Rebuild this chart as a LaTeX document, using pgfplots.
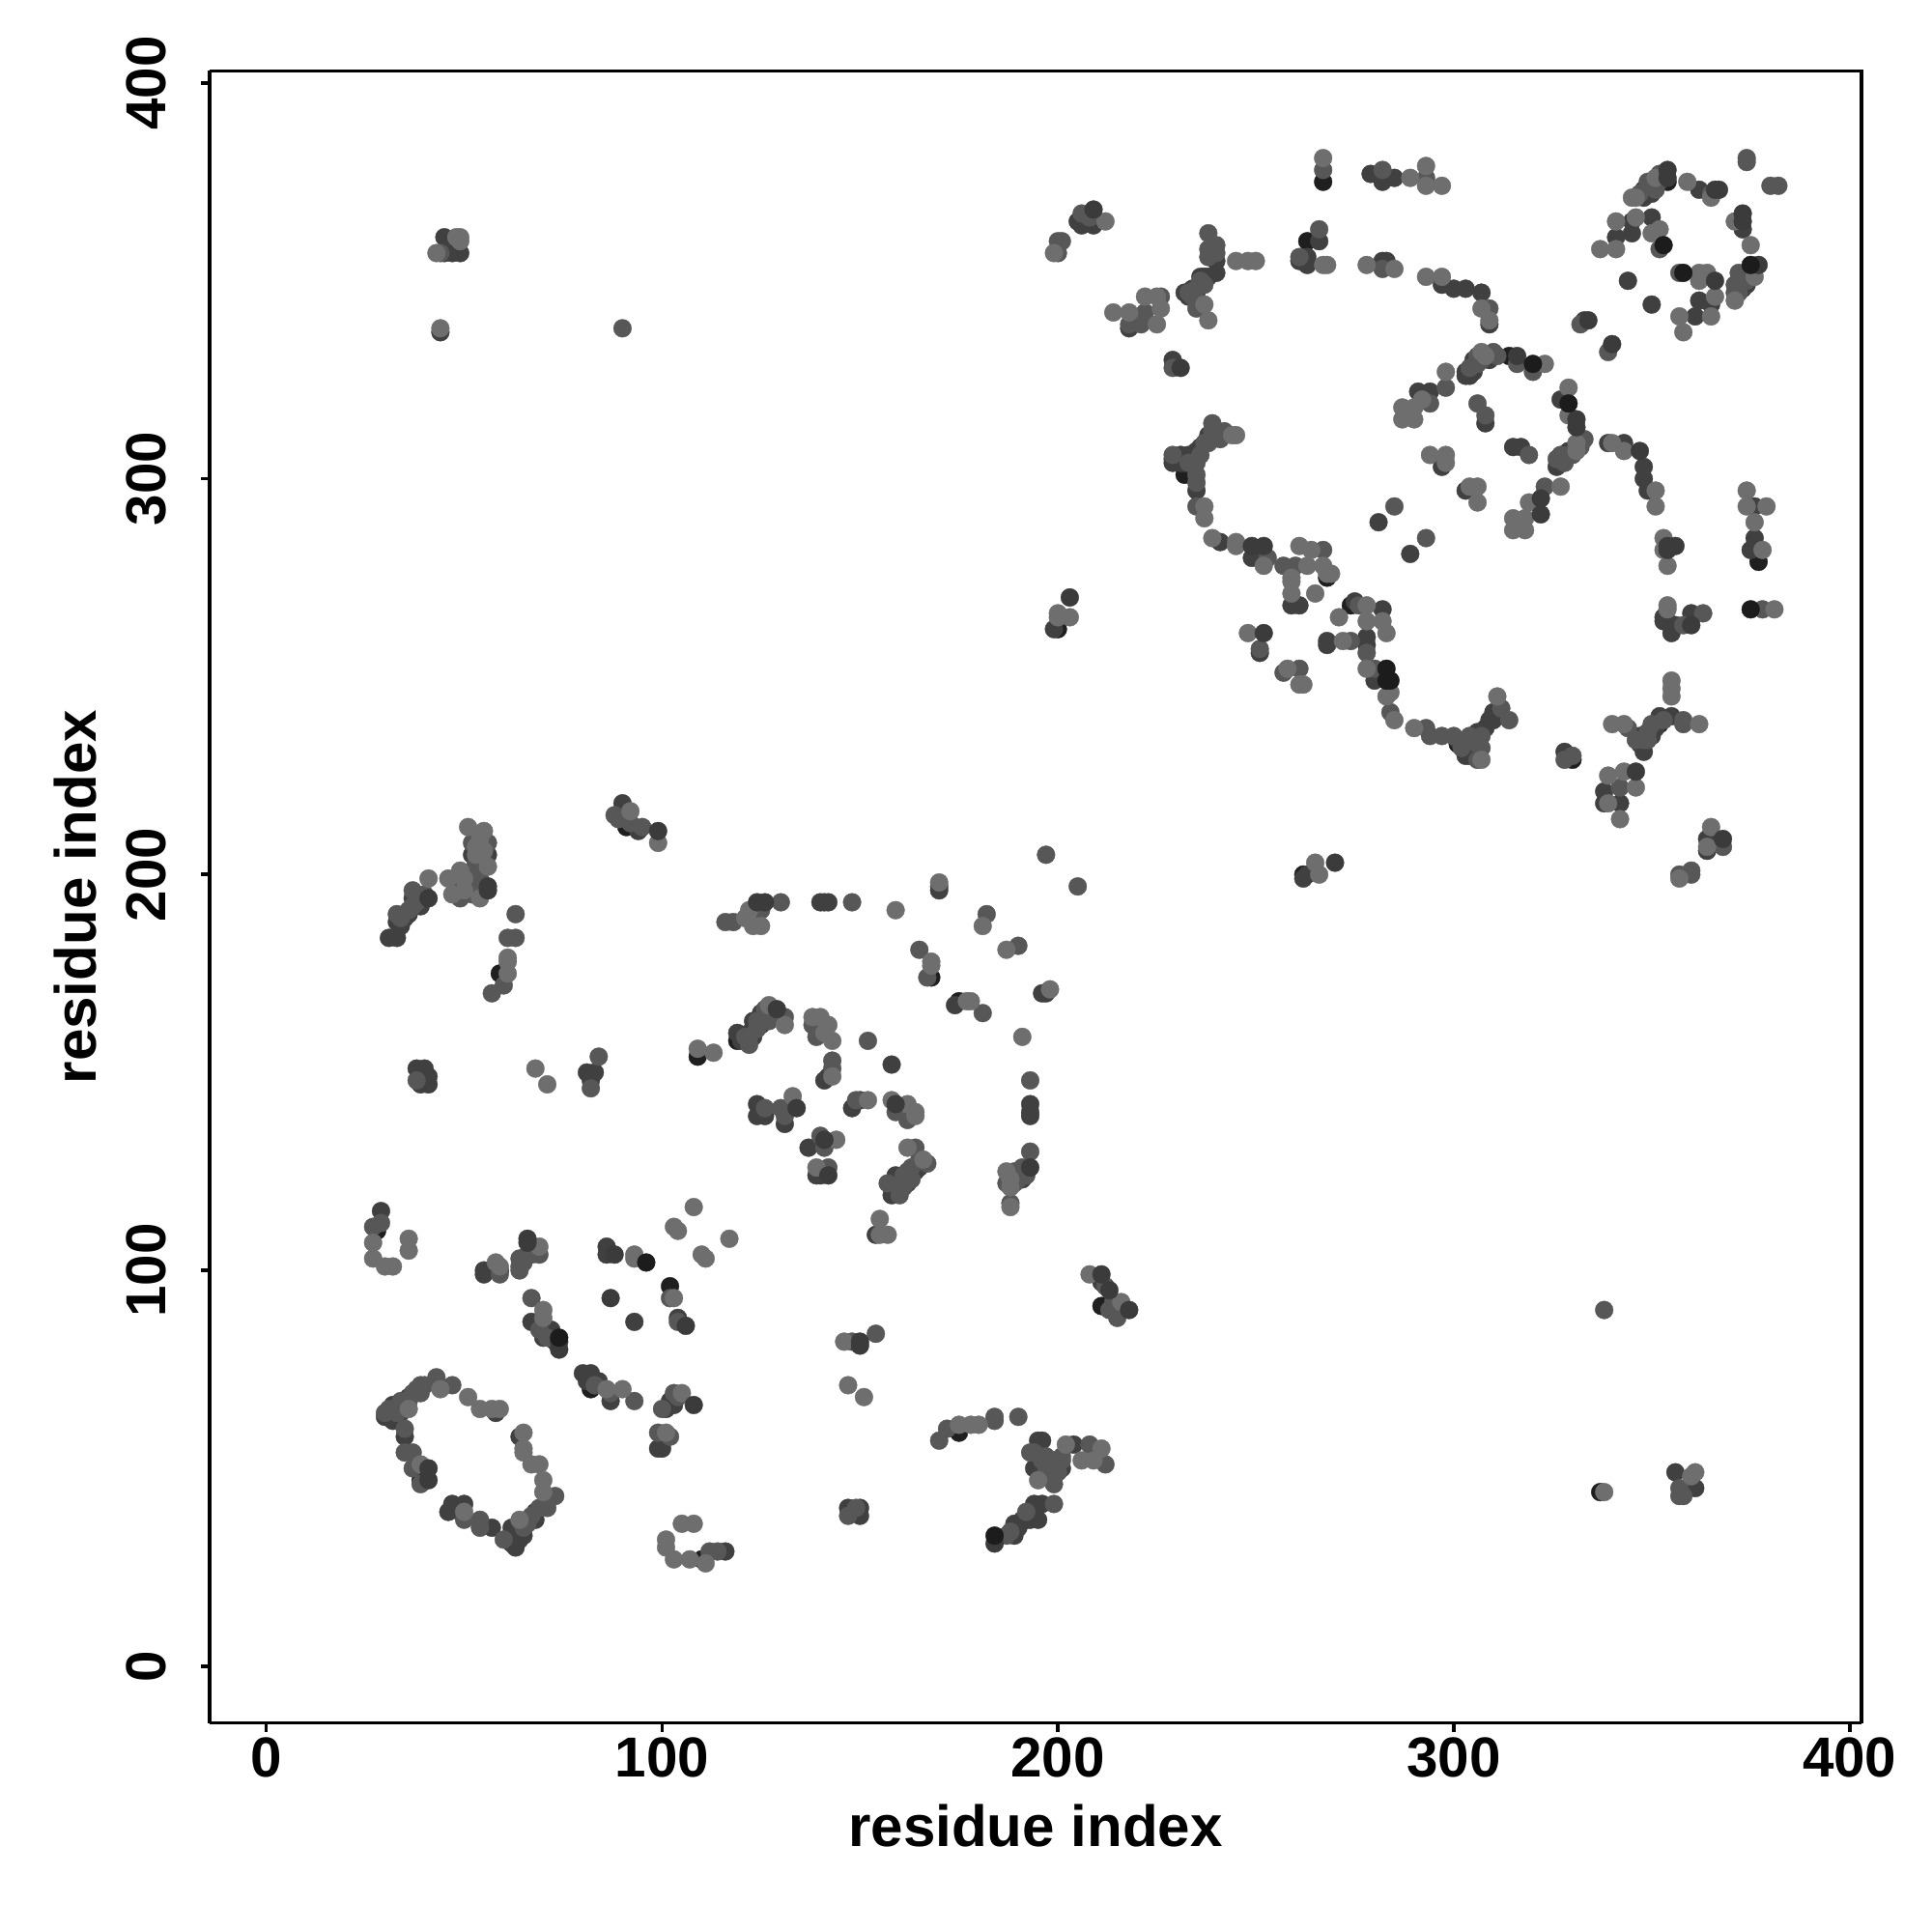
\documentclass[border=0pt]{standalone}
\usepackage{fontspec}
\setmainfont{Liberation Sans}
\usepackage{pgfplots}
\usepackage{pgfplotstable}
\pgfplotsset{compat=1.18}
% k: 1 darkest, 2 dark, 3 mid, 4 light, 5 dark drawn last, 6 darkest drawn last
\pgfplotstableread[row sep=\\]{
x y k\\
29 115 2\\27 111 3\\29 112 3\\28 110 1\\27 107 4\\27 103 4\\30 101 4\\32 101 4\\36 108 4\\36 105 4\\
55 99 2\\55 100 2\\59 99 3\\58 102 4\\59 101 4\\59 100 1\\64 100 3\\64 101 3\\65 102 3\\66 104 2\\67 104 3\\69 106 4\\69 104 3\\66 108 5\\66 107 5\\64 103 3\\
67 93 3\\70 90 4\\70 88 4\\67 87 2\\69 85 3\\72 85 2\\70 83 2\\73 82 2\\71 83 3\\74 83 6\\74 82 5\\74 80 5\\
80 74 2\\82 74 2\\84 72 2\\82 70 1\\87 67 2\\87 69 3\\90 70 4\\93 67 3\\86 70 4\\83 71 3\\81 72 2\\
105 69 4\\103 69 3\\108 66 5\\100 65 3\\101 65 2\\103 66 2\\104 68 3\\102 67 2\\99 59 3\\101 59 4\\102 58 3\\99 55 2\\100 55 2\\
30 64 3\\30 63 2\\32 62 2\\32 66 2\\33 66 2\\34 64 2\\36 65 4\\35 60 3\\35 58 2\\35 54 3\\37 54 3\\37 50 3\\39 51 4\\41 50 5\\41 47 5\\39 46 3\\39 47 1\\36 68 2\\39 71 3\\39 69 3\\43 73 3\\43 72 3\\44 70 4\\47 71 3\\51 68 4\\54 65 4\\59 65 4\\58 64 2\\57 65 4\\
65 59 4\\64 58 2\\65 54 4\\65 55 4\\67 51 4\\69 51 4\\70 47 4\\70 44 4\\73 43 3\\71 40 3\\68 39 2\\68 37 2\\64 37 4\\65 35 3\\62 35 2\\63 30 2\\61 32 2\\60 32 3\\57 35 2\\54 35 3\\54 37 3\\50 37 3\\50 39 4\\50 41 2\\47 41 2\\46 39 2\\49 39 2\\
105 36 4\\108 36 4\\101 32 4\\101 30 4\\103 27 4\\107 27 4\\111 26 4\\110 27 1\\112 29 3\\116 29 2\\114 29 3\\
93 103 4\\93 104 4\\96 102 6\\86 106 2\\86 104 2\\88 104 5\\87 93 5\\102 96 1\\102 93 3\\103 93 4\\93 87 2\\104 88 2\\104 87 3\\106 86 5\\103 111 4\\104 110 4\\117 108 4\\110 104 4\\111 103 4\\108 116 4\\
205 197 3\\170 198 4\\170 196 2\\170 197 2\\159 191 4\\148 193 3\\140 193 2\\142 193 2\\141 193 2\\130 193 3\\126 193 5\\124 193 5\\125 191 3\\122 191 4\\121 189 4\\123 187 4\\125 187 4\\116 188 3\\118 188 3\\
182 190 3\\181 187 4\\190 182 3\\187 181 4\\165 181 3\\168 178 4\\168 177 4\\168 174 1\\167 174 3\\174 167 2\\175 168 1\\177 168 4\\178 168 4\\181 165 3\\196 170 2\\198 171 4\\197 170 2\\
191 159 4\\193 148 3\\193 142 2\\193 140 2\\193 139 2\\193 130 3\\193 126 5\\192 124 3\\190 125 3\\187 125 4\\188 123 4\\190 123 3\\187 122 3\\188 121 4\\188 116 4\\188 117 3\\
127 167 4\\129 166 5\\131 164 3\\131 162 4\\125 165 2\\126 164 3\\123 163 2\\124 161 3\\122 160 2\\123 159 2\\121 159 3\\122 157 3\\119 160 2\\119 158 1\\120 158 2\\
138 164 4\\140 164 4\\138 162 3\\142 162 4\\139 159 3\\143 158 4\\141 160 4\\152 158 3\\158 152 2\\109 156 4\\109 154 1\\113 155 4\\143 153 3\\143 151 3\\142 149 2\\141 148 2\\143 149 4\\
124 142 2\\124 139 2\\126 141 3\\126 139 2\\130 141 3\\131 137 2\\131 139 3\\133 144 4\\134 141 5\\148 141 2\\149 143 3\\152 143 4\\150 143 2\\158 143 4\\159 142 5\\159 140 3\\162 142 4\\162 138 3\\164 139 4\\164 140 4\\
137 131 2\\140 134 3\\141 133 5\\144 133 4\\141 131 3\\139 124 2\\139 126 4\\142 126 3\\142 124 5\\140 124 2\\
162 131 4\\164 131 3\\166 128 4\\167 127 3\\165 126 2\\164 125 2\\162 125 3\\161 124 3\\160 123 2\\159 124 2\\157 122 3\\158 119 2\\160 119 3\\159 121 2\\161 123 2\\163 124 1\\155 113 4\\155 109 4\\157 109 4\\154 109 2\\
208 99 4\\211 99 5\\211 97 2\\212 96 3\\213 95 5\\211 91 1\\214 92 3\\216 92 4\\215 88 3\\218 90 5\\213 90 3\\146 82 4\\148 82 3\\150 82 5\\150 81 5\\154 84 3\\
147 71 4\\151 68 4\\147 40 2\\149 40 3\\150 40 2\\147 38 3\\150 38 2\\148 39 2\\
170 57 3\\172 60 3\\175 61 4\\175 59 1\\178 61 4\\180 61 4\\184 63 3\\184 62 3\\190 63 3\\
196 57 2\\195 57 2\\194 54 3\\193 54 3\\197 53 3\\194 50 2\\196 49 1\\195 47 4\\199 46 3\\201 50 2\\201 52 3\\201 53 3\\202 56 4\\204 56 2\\208 56 3\\206 52 4\\209 52 4\\211 55 4\\212 51 3\\200 49 3\\
184 33 6\\184 31 5\\187 33 3\\189 33 2\\189 36 2\\191 37 2\\193 39 2\\195 37 2\\194 41 2\\196 41 2\\199 41 3\\192 37 1\\
51 212 4\\55 211 4\\52 208 3\\56 208 3\\52 205 2\\56 205 2\\56 202 4\\52 201 3\\49 201 4\\46 199 4\\41 199 4\\47 195 4\\49 200 3\\49 197 3\\48 197 1\\49 194 3\\54 195 2\\54 197 1\\54 194 4\\56 196 5\\56 197 5\\
41 194 5\\39 194 1\\37 196 3\\37 194 2\\36 191 3\\33 190 3\\33 188 2\\35 189 2\\31 184 2\\33 184 2\\63 190 3\\61 184 3\\63 184 3\\61 179 4\\61 178 4\\61 175 4\\59 175 1\\60 172 3\\57 170 3\\
43 357 4\\45 361 2\\49 361 4\\48 361 4\\45 357 2\\49 357 2\\47 357 2\\44 357 3\\49 360 4\\44 338 4\\44 337 2\\90 338 3\\
338 90 3\\337 44 1\\338 44 4\\356 49 2\\361 49 4\\357 45 3\\357 43 3\\361 45 2\\358 43 3\\360 48 4\\
88 215 3\\90 218 2\\92 216 4\\91 212 1\\95 212 3\\94 211 2\\99 211 5\\99 208 4\\92 213 3\\89 214 3\\
38 151 2\\40 151 2\\39 147 2\\41 147 2\\38 148 3\\41 149 2\\68 151 4\\71 147 4\\81 150 2\\83 150 2\\82 146 3\\84 154 3\\82 148 2\\
200 357 3\\199 357 4\\201 360 3\\200 360 3\\206 367 3\\209 368 5\\209 364 2\\206 364 2\\205 365 2\\212 365 4\\208 366 3\\
238 362 3\\240 359 3\\238 358 3\\240 357 3\\240 355 2\\240 352 2\\238 356 3\\238 351 2\\236 350 3\\235 348 3\\233 347 3\\232 347 2\\233 346 2\\235 347 2\\237 351 1\\236 349 2\\245 355 4\\248 355 4\\250 355 4\\237 344 4\\235 343 3\\238 340 4\\
214 342 4\\218 342 4\\222 346 4\\225 346 4\\226 346 3\\226 343 4\\222 342 3\\218 338 2\\218 339 3\\221 339 3\\225 339 4\\220 340 3\\229 330 2\\229 328 3\\231 328 5\\
267 381 4\\267 378 3\\267 375 1\\279 377 2\\282 378 3\\282 375 2\\285 376 2\\289 376 4\\293 379 4\\293 376 3\\293 374 4\\297 374 4\\
266 363 3\\266 360 2\\263 360 1\\261 355 2\\263 356 2\\263 354 2\\267 354 4\\268 354 4\\261 356 3\\278 354 4\\282 355 2\\282 353 3\\285 353 4\\283 355 2\\
293 351 4\\297 351 4\\297 349 2\\300 348 2\\303 348 2\\307 347 2\\309 343 3\\307 343 4\\309 340 4\\309 339 2\\
291 322 2\\294 322 2\\298 323 3\\298 327 4\\294 319 3\\287 318 4\\290 318 4\\287 315 4\\290 315 4\\292 320 4\\306 319 3\\308 316 3\\308 314 2\\
294 306 4\\298 306 4\\297 303 2\\298 304 4\\303 297 2\\304 298 4\\306 298 4\\306 294 4\\285 293 3\\281 289 2\\293 285 3\\289 281 2\\
239 314 3\\239 312 3\\242 312 3\\240 312 1\\244 311 4\\245 311 4\\242 311 3\\239 310 2\\238 309 3\\236 308 2\\235 307 2\\233 306 2\\235 304 3\\229 306 3\\229 305 2\\231 304 2\\229 304 2\\232 301 1\\235 301 3\\235 299 3\\235 297 2\\235 293 3\\237 293 4\\237 290 4\\
239 285 4\\241 284 2\\245 283 4\\245 284 4\\249 283 5\\252 283 5\\249 280 2\\253 280 3\\252 278 4\\
261 283 4\\264 282 4\\267 282 3\\257 278 3\\260 278 3\\263 278 4\\259 274 4\\259 275 4\\259 271 4\\259 268 2\\261 268 2\\267 278 4\\268 276 4\\268 275 1\\269 276 4\\265 271 4\\
275 269 2\\274 268 1\\276 268 3\\278 268 4\\282 267 2\\278 264 4\\282 264 4\\283 261 4\\271 265 4\\268 259 2\\268 258 2\\272 259 4\\274 259 3\\278 260 2\\278 258 2\\278 256 3\\
248 261 4\\252 261 5\\251 257 3\\251 256 2\\257 251 3\\261 252 3\\261 248 4\\262 248 4\\258 252 4\\278 252 4\\280 252 3\\283 252 6\\280 249 2\\283 249 6\\284 249 6\\284 246 4\\283 245 4\\284 241 3\\285 239 4\\
290 237 4\\293 237 3\\294 235 3\\297 235 3\\300 235 3\\301 234 2\\301 233 1\\303 230 2\\304 230 2\\307 229 4\\305 234 2\\306 236 2\\308 237 2\\310 239 2\\310 241 2\\312 242 3\\311 245 4\\314 239 3\\305 233 2\\
328 231 2\\330 230 3\\328 229 3\\330 229 1\\265 203 4\\270 203 5\\262 200 1\\262 199 2\\266 200 4\\263 200 2\\
374 381 3\\374 380 3\\380 374 3\\382 374 3\\354 378 5\\354 376 5\\354 375 1\\351 376 4\\350 374 3\\348 373 2\\348 371 2\\346 371 4\\345 371 4\\351 373 3\\359 375 4\\362 373 2\\365 371 4\\366 373 5\\367 373 5\\365 372 3\\
373 367 5\\373 365 5\\371 365 4\\373 363 2\\375 359 4\\341 365 4\\345 365 2\\346 366 4\\350 366 2\\352 363 4\\350 362 4\\341 361 2\\345 362 2\\337 358 4\\341 358 4\\352 358 3\\353 359 6\\344 350 2\\350 344 2\\
358 352 6\\357 352 3\\362 352 4\\362 350 4\\364 352 4\\366 350 5\\366 346 4\\362 345 2\\365 344 2\\357 341 4\\358 337 4\\361 341 2\\365 341 4\\
371 345 4\\371 349 3\\372 349 2\\373 351 2\\374 349 2\\375 352 3\\375 354 6\\377 354 5\\376 351 4\\372 352 3\\371 347 3\\333 340 2\\332 339 3\\334 340 5\\340 334 5\\339 332 3\\
329 323 4\\329 319 6\\327 320 2\\329 316 4\\331 315 5\\331 313 5\\333 310 3\\331 309 4\\331 307 4\\329 307 2\\327 304 2\\326 303 2\\326 305 3\\328 305 2\\
316 331 5\\314 331 1\\316 329 3\\320 329 6\\320 327 3\\323 329 4\\310 332 3\\307 332 4\\305 330 2\\305 328 2\\303 326 2\\303 327 2\\306 331 3\\308 331 4\\
315 308 2\\317 308 2\\319 306 3\\340 309 4\\339 309 2\\343 309 2\\343 307 4\\347 307 5\\348 303 2\\348 300 2\\349 297 2\\351 297 4\\351 293 4\\353 285 4\\354 282 5\\353 282 4\\356 283 5\\354 283 5\\354 278 4\\
374 297 4\\374 293 4\\376 293 2\\379 293 4\\376 289 4\\376 285 2\\375 282 2\\378 282 4\\377 279 1\\
323 298 3\\327 298 4\\322 295 5\\319 294 4\\322 291 5\\315 290 4\\318 290 4\\315 287 4\\318 287 4\\
354 268 4\\354 267 4\\353 264 2\\355 261 2\\356 263 2\\360 266 2\\360 263 5\\363 266 3\\358 263 3\\353 265 2\\354 264 2\\375 267 6\\378 267 3\\381 267 4\\
355 249 4\\355 247 4\\355 245 4\\340 238 4\\344 237 3\\343 238 4\\347 235 2\\348 233 2\\347 233 2\\348 234 3\\349 236 3\\351 237 2\\352 240 2\\355 240 2\\358 239 3\\358 238 3\\362 238 4\\352 238 1\\348 231 2\\
339 225 4\\343 226 4\\346 226 5\\346 222 4\\342 222 3\\338 221 2\\338 218 2\\339 218 4\\342 218 2\\342 214 4\\365 212 4\\368 209 5\\368 207 3\\364 209 2\\364 206 2\\364 207 4\\357 200 3\\357 199 4\\360 200 3\\360 201 3\\
203 270 5\\199 262 2\\200 262 1\\200 265 4\\203 265 4\\200 266 4\\197 205 3\\
53 207 4\\54 209 4\\53 203 3\\55 203 3\\53 205 4\\55 206 4\\50 199 4\\51 196 3\\52 195 3\\50 196 4\\54 199 3\\
34 187 2\\34 189 3\\36 190 2\\37 192 3\\38 193 3\\38 195 3\\40 195 3\\39 192 2\\
31 65 3\\33 64 3\\34 67 3\\35 66 3\\36 67 3\\37 69 3\\38 70 3\\40 71 3\\66 36 3\\65 33 2\\64 32 2\\62 31 2\\67 38 3\\69 40 3\\
234 348 2\\236 351 2\\237 349 3\\234 346 3\\304 328 3\\306 329 3\\307 330 3\\309 330 2\\311 331 3\\304 326 2\\305 327 2\\
328 304 3\\329 306 3\\330 306 3\\332 308 3\\327 306 3\\347 372 3\\349 375 3\\350 372 2\\352 375 2\\352 377 3\\
124 163 3\\125 162 2\\126 166 3\\128 165 3\\127 163 3\\122 159 3\\158 121 2\\160 121 2\\161 121 3\\162 122 2\\163 126 3\\165 128 3\\163 123 3\\
189 122 3\\191 123 2\\189 125 3\\191 126 3\\231 306 2\\232 304 2\\233 304 3\\234 305 2\\236 306 3\\237 309 3\\238 311 2\\241 310 3\\
302 232 3\\303 233 2\\304 235 3\\306 233 3\\307 235 3\\307 232 3\\305 230 2\\306 229 3\\309 239 2\\
349 234 3\\350 235 2\\350 238 3\\353 239 3\\346 234 3\\372 347 3\\373 348 2\\374 350 3\\376 353 3\\
196 52 3\\197 49 3\\198 50 2\\199 52 3\\199 48 3\\192 39 3\\193 37 2\\190 35 2\\188 34 3\\
}\pts
\definecolor{g1}{gray}{0.12}
\definecolor{g2}{gray}{0.25}
\definecolor{g3}{gray}{0.34}
\definecolor{g4}{gray}{0.43}
\definecolor{g5}{gray}{0.23}
\definecolor{g6}{gray}{0.11}
\pgfplotsset{
  layer/.style 2 args={only marks, mark=*, mark size=2.65pt,
    mark options={fill=#2, draw=#2, line width=0.1pt}, forget plot,
    x filter/.expression={\thisrow{k}==#1 ? x : nan}}
}
\begin{document}
\begin{tikzpicture}[x=1cm,y=1cm]
\useasboundingbox (0,0) rectangle (20,20);
\begin{axis}[
  at={(2.17cm,2.165cm)}, anchor=south west,
  scale only axis, width=17.1cm, height=17.1cm,
  xmin=-14.3, xmax=403.0, ymin=-14.3, ymax=403.0,
  axis line style={line width=1.05pt},
  tick style={line width=1.05pt, black},
  tick align=outside, major tick length=0.09cm,
  xtick={0,100,200,300,400}, ytick={0,100,200,300,400},
  axis x line*=bottom, axis y line*=left,
  enlargelimits=false,
  axis on top=false,
  clip=false,
  /pgf/number format/assume math mode=true,
  tick label style={font=\fontsize{16.6}{18}\selectfont\bfseries},
  xticklabel style={yshift=1.7pt},
  yticklabel style={rotate=90, anchor=south, xshift=0pt, yshift=6.7pt},
  x label style={at={(axis description cs:0.5,-0.0622)},anchor=center,font=\fontsize{17.1}{19}\selectfont\bfseries},
  y label style={at={(axis description cs:-0.0815,0.5)},anchor=center,rotate=0,font=\fontsize{17.1}{19}\selectfont\bfseries},
  xlabel={residue index}, ylabel={residue index},
]
\addplot[layer={1}{g1}] table[x=x,y=y] {\pts};
\addplot[layer={2}{g2}] table[x=x,y=y] {\pts};
\addplot[layer={3}{g3}] table[x=x,y=y] {\pts};
\addplot[layer={4}{g4}] table[x=x,y=y] {\pts};
\addplot[layer={5}{g5}] table[x=x,y=y] {\pts};
\addplot[layer={6}{g6}] table[x=x,y=y] {\pts};
\draw[line width=1.05pt] (rel axis cs:0,1) -- (rel axis cs:1,1) -- (rel axis cs:1,0);
\end{axis}
\end{tikzpicture}
\end{document}
